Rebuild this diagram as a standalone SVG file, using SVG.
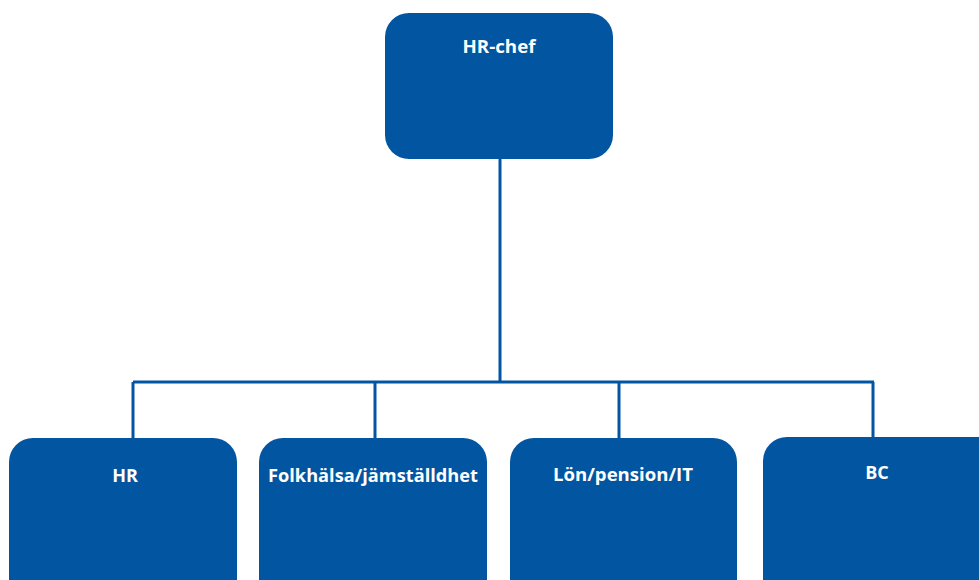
<svg xmlns="http://www.w3.org/2000/svg" width="979" height="580" viewBox="0 0 979 580">
<style>
.box{fill:#0255a0;}
.lbl{fill:#ffffff;font-family:"Open Sans","Liberation Sans",sans-serif;font-weight:bold;font-size:18px;text-anchor:middle;}
.conn{stroke:#0255a0;stroke-width:3;fill:none;}
</style>
<rect width="979" height="580" fill="#ffffff"/>
<g id="connectors">
<path class="conn" d="M500 159 V382"/>
<path class="conn" d="M133 382 H874"/>
<path class="conn" d="M133 382 V440"/>
<path class="conn" d="M375 382 V440"/>
<path class="conn" d="M619 382 V440"/>
<path class="conn" d="M873 382 V440"/>
</g>
<g id="hr-chef">
<rect class="box" x="385" y="13" width="228" height="146" rx="24"/>
<text class="lbl" x="499" y="53" textLength="73" lengthAdjust="spacingAndGlyphs">HR-chef</text>
</g>
<g id="hr">
<rect class="box" x="9" y="438" width="228" height="170" rx="24"/>
<text class="lbl" x="125" y="482">HR</text>
</g>
<g id="folkhalsa">
<rect class="box" x="259" y="438" width="228" height="170" rx="24"/>
<text class="lbl" x="373" y="482" textLength="210" lengthAdjust="spacingAndGlyphs">Folkhälsa/jämställdhet</text>
</g>
<g id="lon">
<rect class="box" x="510" y="438" width="227" height="170" rx="24"/>
<text class="lbl" x="623" y="481" textLength="140" lengthAdjust="spacingAndGlyphs">Lön/pension/IT</text>
</g>
<g id="bc">
<rect class="box" x="763" y="437" width="240" height="170" rx="24"/>
<text class="lbl" x="877" y="479">BC</text>
</g>
</svg>
